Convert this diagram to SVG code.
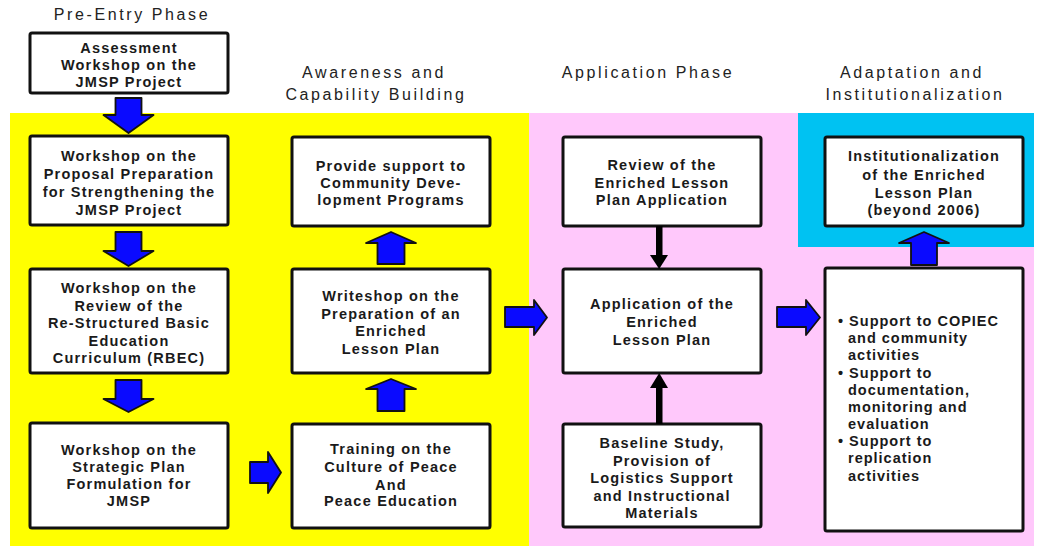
<svg xmlns="http://www.w3.org/2000/svg" width="1037" height="546" viewBox="0 0 1037 546">
<style>
.bg{stroke:none}
.box{fill:#fff;stroke:#111;stroke-width:3}
.t{font-family:"Liberation Sans",Arial,sans-serif;font-size:14.5px;font-weight:bold;fill:#1a1a1a;text-anchor:middle;letter-spacing:1.2px}
.tl{font-family:"Liberation Sans",Arial,sans-serif;font-size:14.5px;font-weight:bold;fill:#1a1a1a;letter-spacing:1px}
.h{font-family:"Liberation Sans",Arial,sans-serif;font-size:16px;fill:#222;text-anchor:middle;letter-spacing:2.6px}
.ba{fill:#0a0aff;stroke:#111;stroke-width:1.8;stroke-linejoin:round}
.ka{fill:#000;stroke:none}
</style>
<rect width="1037" height="546" fill="#fff"/>
<g id="regions">
<rect class="bg" x="10" y="113" width="519" height="433" fill="#ffff00"/>
<rect class="bg" x="529" y="113" width="505" height="433" fill="#ffc8fb"/>
<rect class="bg" x="798" y="113" width="236" height="134" fill="#00c2f2"/>
</g>
<g id="titles">
<text class="h" x="132" y="20">Pre-Entry  Phase</text>
<text class="h" x="374" y="78">Awareness and</text>
<text class="h" x="376" y="100">Capability  Building</text>
<text class="h" x="648" y="78">Application Phase</text>
<text class="h" x="912" y="78">Adaptation and</text>
<text class="h" x="915" y="100">Institutionalization</text>
</g>
<g id="n-assessment">
<rect class="box" x="30" y="33" width="198" height="60" rx="2"/>
<text class="t" x="129" y="53">Assessment</text>
<text class="t" x="129" y="70">Workshop on the</text>
<text class="t" x="129" y="87">JMSP Project</text>
</g>
<g id="n-proposal">
<rect class="box" x="30" y="136" width="198" height="89" rx="2"/>
<text class="t" x="129" y="161">Workshop on the</text>
<text class="t" x="129" y="179">Proposal Preparation</text>
<text class="t" x="129" y="197">for Strengthening the</text>
<text class="t" x="129" y="215">JMSP Project</text>
</g>
<g id="n-rbec">
<rect class="box" x="30" y="269" width="198" height="104" rx="2"/>
<text class="t" x="129" y="293">Workshop on the</text>
<text class="t" x="129" y="310.5">Review of the</text>
<text class="t" x="129" y="328">Re-Structured Basic</text>
<text class="t" x="129" y="345.5">Education</text>
<text class="t" x="129" y="363">Curriculum (RBEC)</text>
</g>
<g id="n-strategic">
<rect class="box" x="30" y="423" width="198" height="105" rx="2"/>
<text class="t" x="129" y="455">Workshop on the</text>
<text class="t" x="129" y="472">Strategic Plan</text>
<text class="t" x="129" y="489">Formulation for</text>
<text class="t" x="129" y="506">JMSP</text>
</g>
<g id="n-community">
<rect class="box" x="292" y="137" width="198" height="89" rx="2"/>
<text class="t" x="391" y="171">Provide support to</text>
<text class="t" x="391" y="188">Community Deve-</text>
<text class="t" x="391" y="205">lopment Programs</text>
</g>
<g id="n-writeshop">
<rect class="box" x="292" y="269" width="198" height="104" rx="2"/>
<text class="t" x="391" y="301">Writeshop on the</text>
<text class="t" x="391" y="318.5">Preparation of an</text>
<text class="t" x="391" y="336">Enriched</text>
<text class="t" x="391" y="353.5">Lesson Plan</text>
</g>
<g id="n-training">
<rect class="box" x="292" y="424" width="198" height="104" rx="2"/>
<text class="t" x="391" y="454">Training on the</text>
<text class="t" x="391" y="472">Culture of Peace</text>
<text class="t" x="391" y="490">And</text>
<text class="t" x="391" y="506">Peace Education</text>
</g>
<g id="n-review">
<rect class="box" x="563" y="137" width="198" height="89" rx="2"/>
<text class="t" x="662" y="170">Review of the</text>
<text class="t" x="662" y="188">Enriched Lesson</text>
<text class="t" x="662" y="205">Plan Application</text>
</g>
<g id="n-application">
<rect class="box" x="563" y="269" width="198" height="104" rx="2"/>
<text class="t" x="662" y="309">Application of the</text>
<text class="t" x="662" y="327">Enriched</text>
<text class="t" x="662" y="345">Lesson Plan</text>
</g>
<g id="n-baseline">
<rect class="box" x="563" y="424" width="198" height="103" rx="2"/>
<text class="t" x="662" y="448">Baseline Study,</text>
<text class="t" x="662" y="465.5">Provision of</text>
<text class="t" x="662" y="483">Logistics Support</text>
<text class="t" x="662" y="500.5">and Instructional</text>
<text class="t" x="662" y="518">Materials</text>
</g>
<g id="n-institutionalization">
<rect class="box" x="825" y="137" width="198" height="89" rx="2"/>
<text class="t" x="924" y="161">Institutionalization</text>
<text class="t" x="924" y="179.5">of the Enriched</text>
<text class="t" x="924" y="198">Lesson Plan</text>
<text class="t" x="924" y="215">(beyond 2006)</text>
</g>
<g id="n-support">
<rect class="box" x="825" y="268" width="198" height="263" rx="2"/>
<text class="tl" x="838" y="326">• Support to COPIEC</text>
<text class="tl" x="848" y="343">and community</text>
<text class="tl" x="848" y="360">activities</text>
<text class="tl" x="838" y="377.5">• Support to</text>
<text class="tl" x="848" y="394.5">documentation,</text>
<text class="tl" x="848" y="411.5">monitoring and</text>
<text class="tl" x="848" y="428.5">evaluation</text>
<text class="tl" x="838" y="446">• Support to</text>
<text class="tl" x="848" y="463">replication</text>
<text class="tl" x="848" y="480.5">activities</text>
</g>
<g id="connectors">
<polygon class="ba" points="115.5,98 141.5,98 141.5,115 153.5,115 128.5,133 103.5,115 115.5,115"/>
<polygon class="ba" points="115.5,232 141.5,232 141.5,251 153.5,251 128.5,266 103.5,251 115.5,251"/>
<polygon class="ba" points="115.5,380 141.5,380 141.5,399 153.5,399 128.5,412 103.5,399 115.5,399"/>
<polygon class="ba" points="377.5,264 404.5,264 404.5,243 416,243 391,232 366,243 377.5,243"/>
<polygon class="ba" points="377.5,411 404.5,411 404.5,389 416,389 391,379 366,389 377.5,389"/>
<polygon class="ba" points="911,265 937,265 937,243 949,243 924,232 899,243 911,243"/>
<polygon class="ba" points="250,462 268,462 268,452 281,472.5 268,493 268,483 250,483"/>
<polygon class="ba" points="505,307 534,307 534,300 547,317.5 534,335 534,327 505,327"/>
<polygon class="ba" points="777,307 806,307 806,300 820,317.5 806,335 806,327 777,327"/>
<rect class="ka" x="656" y="226" width="6.5" height="31"/>
<polygon class="ka" points="650,255 668,255 659.2,269"/>
<rect class="ka" x="656" y="386" width="6.5" height="38"/>
<polygon class="ka" points="650,388 668,388 659.2,373"/>
</g>
</svg>
